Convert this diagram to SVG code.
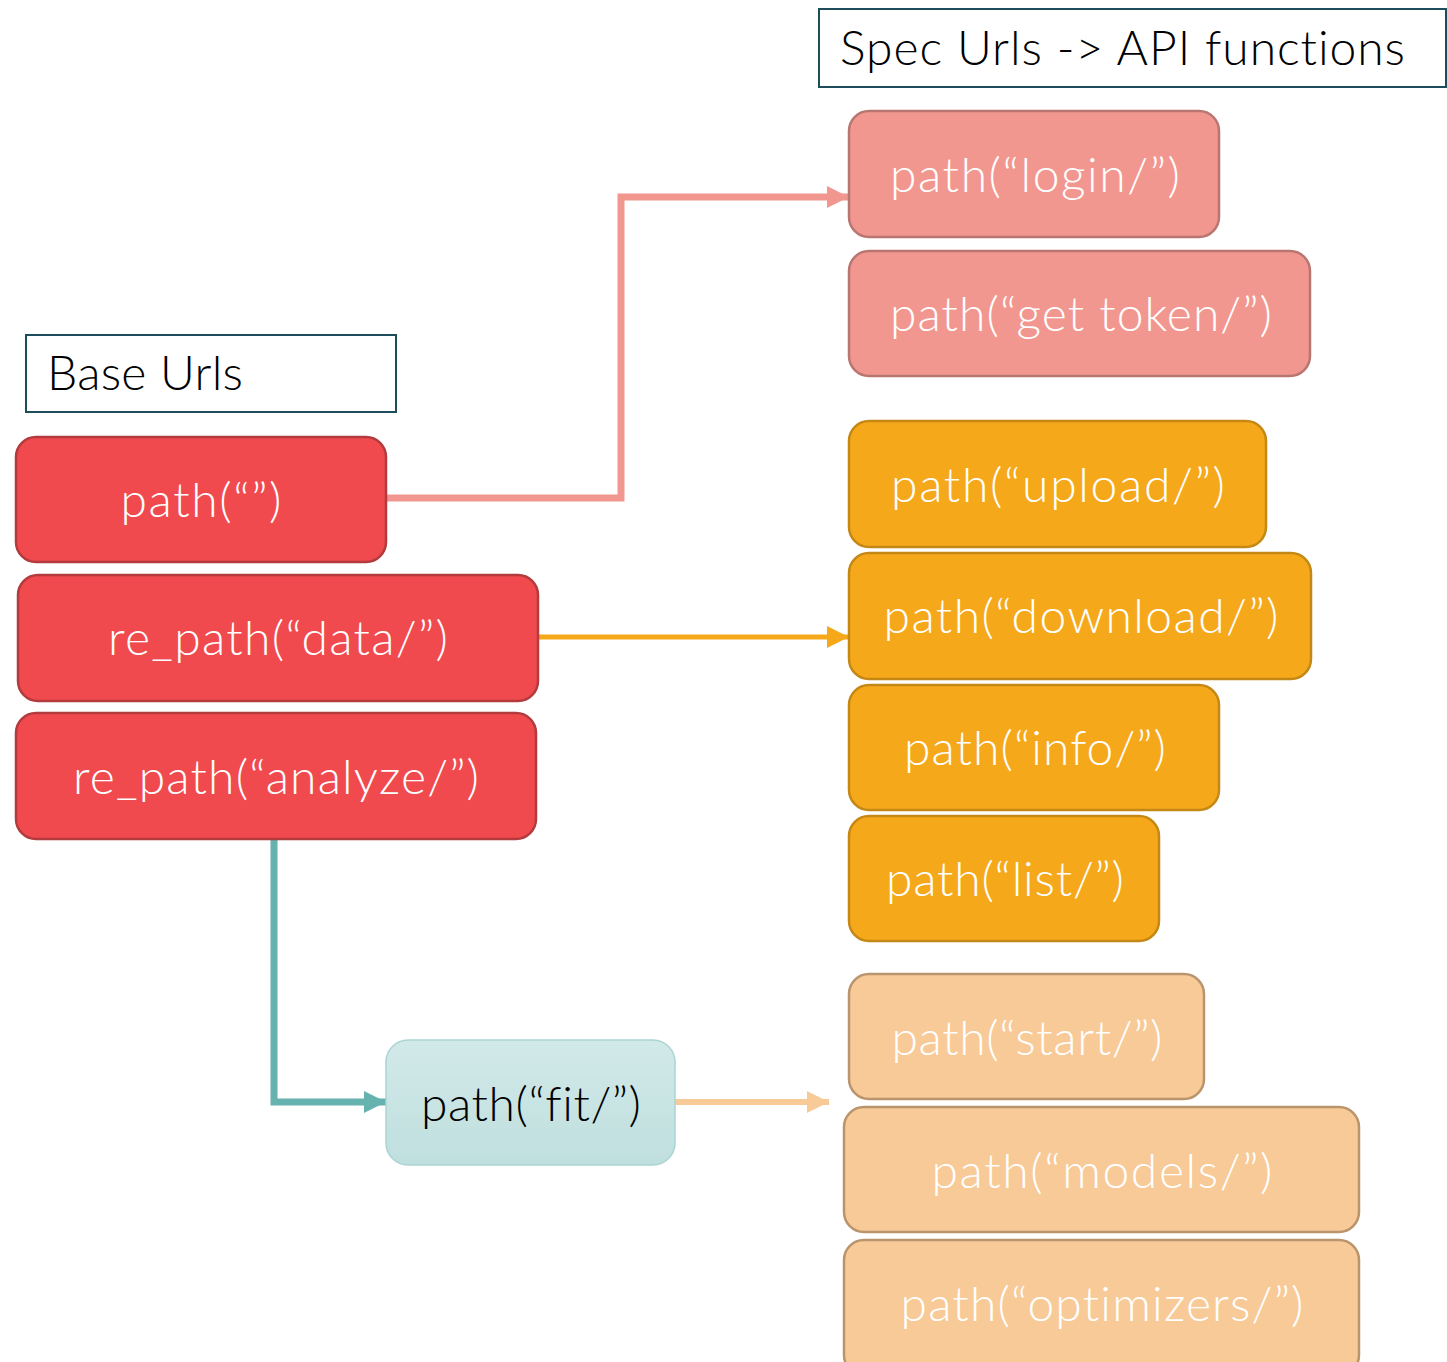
<svg xmlns="http://www.w3.org/2000/svg" width="1447" height="1362" viewBox="0 0 1447 1362">
<defs>
<style>
text{font-variant-ligatures:none;font-feature-settings:"liga" 0}
.t{font-family:Lato,"Open Sans","Liberation Sans",sans-serif;font-weight:300;font-size:48px;text-anchor:middle;fill:#fff}
.h{font-family:Lato,"Open Sans","Liberation Sans",sans-serif;font-weight:300;font-size:48px;fill:#000}
.hb{fill:#fff;stroke:#1d4d5a;stroke-width:2}
.red{fill:#f04a4f;stroke:#b33a3d;stroke-width:2.5}
.pink{fill:#f2978f;stroke:#b97670;stroke-width:2.5}
.org{fill:#f6a81b;stroke:#c58814;stroke-width:2.5}
.lor{fill:#f8ca97;stroke:#b9946d;stroke-width:2.5}
.c{fill:none}
</style>
<linearGradient id="tg" x1="0" y1="0" x2="0" y2="1">
<stop offset="0" stop-color="#d2e9e9"/>
<stop offset="1" stop-color="#bfdfde"/>
</linearGradient>
<marker id="aPink" viewBox="0 0 10 10" refX="10" refY="5" markerUnits="userSpaceOnUse" markerWidth="22" markerHeight="24" orient="auto"><path d="M0,0L10,5L0,10z" fill="#f2978f"/></marker>
<marker id="aOrg" viewBox="0 0 10 10" refX="10" refY="5" markerUnits="userSpaceOnUse" markerWidth="24" markerHeight="22" orient="auto"><path d="M0,0L10,5L0,10z" fill="#f6a81b"/></marker>
<marker id="aTeal" viewBox="0 0 10 10" refX="10" refY="5" markerUnits="userSpaceOnUse" markerWidth="22" markerHeight="24" orient="auto"><path d="M0,0L10,5L0,10z" fill="#66b2ae"/></marker>
<marker id="aLor" viewBox="0 0 10 10" refX="10" refY="5" markerUnits="userSpaceOnUse" markerWidth="22" markerHeight="24" orient="auto"><path d="M0,0L10,5L0,10z" fill="#f8ca97"/></marker>
</defs>
<rect width="1447" height="1362" fill="#fff"/>

<g id="connectors">
<path class="c" d="M386,498H621V197H849" stroke="#f2978f" stroke-width="7" marker-end="url(#aPink)"/>
<path class="c" d="M538,637H849" stroke="#f6a81b" stroke-width="5" marker-end="url(#aOrg)"/>
<path class="c" d="M274,840V1102H386" stroke="#66b2ae" stroke-width="7" marker-end="url(#aTeal)"/>
<path class="c" d="M675,1102H829" stroke="#f8ca97" stroke-width="6" marker-end="url(#aLor)"/>
</g>

<g id="spec-header"><rect class="hb" x="819" y="9" width="627" height="78"/><text class="h" x="840" y="65" textLength="565" lengthAdjust="spacing">Spec Urls -&gt;  API functions</text></g>
<g id="base-header"><rect class="hb" x="26" y="335" width="370" height="77"/><text class="h" x="47" y="390" textLength="196" lengthAdjust="spacing">Base Urls</text></g>

<g id="base-root"><rect class="red" x="16" y="437" width="370" height="125" rx="20"/><text class="t" x="201" y="517" textLength="161" lengthAdjust="spacing">path(“”)</text></g>
<g id="base-data"><rect class="red" x="18" y="575" width="520" height="126" rx="20"/><text class="t" x="278" y="655" textLength="340" lengthAdjust="spacing">re_path(“data/”)</text></g>
<g id="base-analyze"><rect class="red" x="16" y="713" width="520" height="126" rx="20"/><text class="t" x="276" y="794" textLength="406" lengthAdjust="spacing">re_path(“analyze/”)</text></g>

<g id="login"><rect class="pink" x="849" y="111" width="370" height="126" rx="20"/><text class="t" x="1035" y="192" textLength="290" lengthAdjust="spacing">path(“login/”)</text></g>
<g id="get-token"><rect class="pink" x="849" y="251" width="461" height="125" rx="20"/><text class="t" x="1081" y="331" textLength="382" lengthAdjust="spacing">path(“get token/”)</text></g>

<g id="upload"><rect class="org" x="849" y="421" width="417" height="126" rx="20"/><text class="t" x="1058" y="502" textLength="334" lengthAdjust="spacing">path(“upload/”)</text></g>
<g id="download"><rect class="org" x="849" y="553" width="462" height="126" rx="20"/><text class="t" x="1081" y="633" textLength="395" lengthAdjust="spacing">path(“download/”)</text></g>
<g id="info"><rect class="org" x="849" y="685" width="370" height="125" rx="20"/><text class="t" x="1035" y="765" textLength="262" lengthAdjust="spacing">path(“info/”)</text></g>
<g id="list"><rect class="org" x="849" y="816" width="310" height="125" rx="20"/><text class="t" x="1005" y="896" textLength="238" lengthAdjust="spacing">path(“list/”)</text></g>

<g id="fit"><rect x="386" y="1040" width="289" height="125" rx="22" fill="url(#tg)" stroke="#a9d5d3" stroke-width="1.5"/><text class="t" x="531" y="1121" style="fill:#000" textLength="220" lengthAdjust="spacing">path(“fit/”)</text></g>

<g id="start"><rect class="lor" x="849" y="974" width="355" height="125" rx="20"/><text class="t" x="1027" y="1055" textLength="271" lengthAdjust="spacing">path(“start/”)</text></g>
<g id="models"><rect class="lor" x="844" y="1107" width="515" height="125" rx="20"/><text class="t" x="1102" y="1188" textLength="341" lengthAdjust="spacing">path(“models/”)</text></g>
<g id="optimizers"><rect class="lor" x="844" y="1240" width="515" height="135" rx="20"/><text class="t" x="1102" y="1321" textLength="403" lengthAdjust="spacing">path(“optimizers/”)</text></g>
</svg>
